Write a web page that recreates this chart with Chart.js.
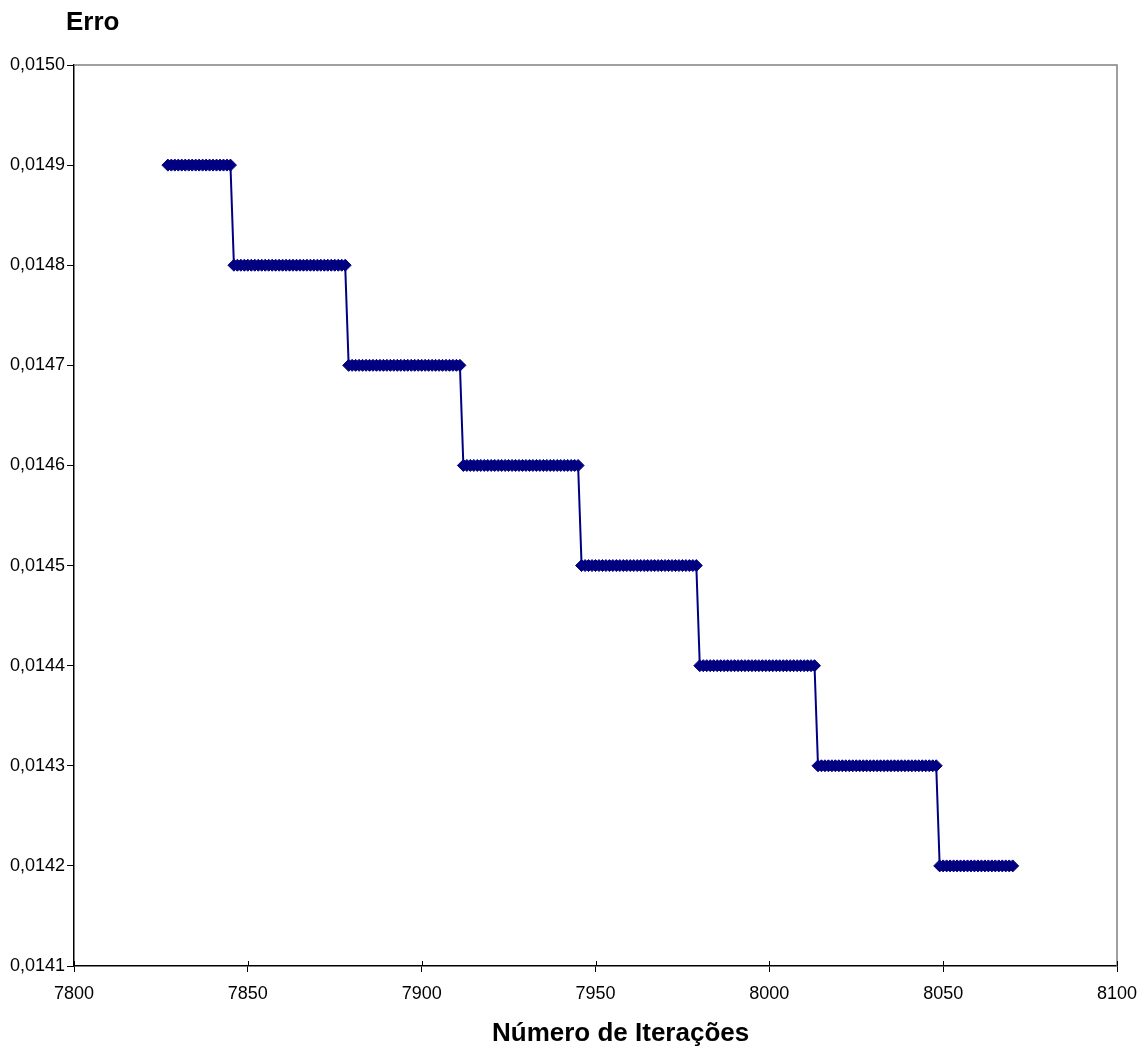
<!DOCTYPE html>
<html><head><meta charset="utf-8">
<script src="https://cdn.jsdelivr.net/npm/chart.js@4.4.1/dist/chart.umd.min.js"></script>
<style>html,body{margin:0;padding:0;background:#fff;overflow:hidden}</style>
</head><body>
<canvas id="c" width="1141" height="1046"></canvas>
<script>
// Iteration number (x) for every plotted point
const iterations = [
 7827,7828,7829,7830,7831,7832,7833,7834,7835,7836,7837,7838,7839,7840,7841,7842,7843,7844,7845,
 7846,7847,7848,7849,7850,7851,7852,7853,7854,7855,7856,7857,7858,7859,7860,7861,7862,7863,7864,7865,7866,7867,7868,7869,7870,7871,7872,7873,7874,7875,7876,7877,7878,
 7879,7880,7881,7882,7883,7884,7885,7886,7887,7888,7889,7890,7891,7892,7893,7894,7895,7896,7897,7898,7899,7900,7901,7902,7903,7904,7905,7906,7907,7908,7909,7910,7911,
 7912,7913,7914,7915,7916,7917,7918,7919,7920,7921,7922,7923,7924,7925,7926,7927,7928,7929,7930,7931,7932,7933,7934,7935,7936,7937,7938,7939,7940,7941,7942,7943,7944,7945,
 7946,7947,7948,7949,7950,7951,7952,7953,7954,7955,7956,7957,7958,7959,7960,7961,7962,7963,7964,7965,7966,7967,7968,7969,7970,7971,7972,7973,7974,7975,7976,7977,7978,7979,
 7980,7981,7982,7983,7984,7985,7986,7987,7988,7989,7990,7991,7992,7993,7994,7995,7996,7997,7998,7999,8000,8001,8002,8003,8004,8005,8006,8007,8008,8009,8010,8011,8012,8013,
 8014,8015,8016,8017,8018,8019,8020,8021,8022,8023,8024,8025,8026,8027,8028,8029,8030,8031,8032,8033,8034,8035,8036,8037,8038,8039,8040,8041,8042,8043,8044,8045,8046,8047,8048,
 8049,8050,8051,8052,8053,8054,8055,8056,8057,8058,8059,8060,8061,8062,8063,8064,8065,8066,8067,8068,8069,8070
];
// Error (y) for every plotted point
const errors = [
 0.0149,0.0149,0.0149,0.0149,0.0149,0.0149,0.0149,0.0149,0.0149,0.0149,0.0149,0.0149,0.0149,0.0149,0.0149,0.0149,0.0149,0.0149,0.0149,
 0.0148,0.0148,0.0148,0.0148,0.0148,0.0148,0.0148,0.0148,0.0148,0.0148,0.0148,0.0148,0.0148,0.0148,0.0148,0.0148,0.0148,0.0148,0.0148,0.0148,0.0148,0.0148,0.0148,0.0148,0.0148,0.0148,0.0148,0.0148,0.0148,0.0148,0.0148,0.0148,0.0148,
 0.0147,0.0147,0.0147,0.0147,0.0147,0.0147,0.0147,0.0147,0.0147,0.0147,0.0147,0.0147,0.0147,0.0147,0.0147,0.0147,0.0147,0.0147,0.0147,0.0147,0.0147,0.0147,0.0147,0.0147,0.0147,0.0147,0.0147,0.0147,0.0147,0.0147,0.0147,0.0147,0.0147,
 0.0146,0.0146,0.0146,0.0146,0.0146,0.0146,0.0146,0.0146,0.0146,0.0146,0.0146,0.0146,0.0146,0.0146,0.0146,0.0146,0.0146,0.0146,0.0146,0.0146,0.0146,0.0146,0.0146,0.0146,0.0146,0.0146,0.0146,0.0146,0.0146,0.0146,0.0146,0.0146,0.0146,0.0146,
 0.0145,0.0145,0.0145,0.0145,0.0145,0.0145,0.0145,0.0145,0.0145,0.0145,0.0145,0.0145,0.0145,0.0145,0.0145,0.0145,0.0145,0.0145,0.0145,0.0145,0.0145,0.0145,0.0145,0.0145,0.0145,0.0145,0.0145,0.0145,0.0145,0.0145,0.0145,0.0145,0.0145,0.0145,
 0.0144,0.0144,0.0144,0.0144,0.0144,0.0144,0.0144,0.0144,0.0144,0.0144,0.0144,0.0144,0.0144,0.0144,0.0144,0.0144,0.0144,0.0144,0.0144,0.0144,0.0144,0.0144,0.0144,0.0144,0.0144,0.0144,0.0144,0.0144,0.0144,0.0144,0.0144,0.0144,0.0144,0.0144,
 0.0143,0.0143,0.0143,0.0143,0.0143,0.0143,0.0143,0.0143,0.0143,0.0143,0.0143,0.0143,0.0143,0.0143,0.0143,0.0143,0.0143,0.0143,0.0143,0.0143,0.0143,0.0143,0.0143,0.0143,0.0143,0.0143,0.0143,0.0143,0.0143,0.0143,0.0143,0.0143,0.0143,0.0143,0.0143,
 0.0142,0.0142,0.0142,0.0142,0.0142,0.0142,0.0142,0.0142,0.0142,0.0142,0.0142,0.0142,0.0142,0.0142,0.0142,0.0142,0.0142,0.0142,0.0142,0.0142,0.0142,0.0142
];
const xTicks = [7800, 7850, 7900, 7950, 8000, 8050, 8100];
const yTicks = [0.0141, 0.0142, 0.0143, 0.0144, 0.0145, 0.0146, 0.0147, 0.0148, 0.0149, 0.0150];
const yAxisTitle = 'Erro';
const xAxisTitle = 'Número de Iterações';

const FONT = '"Liberation Sans", Arial, Helvetica, sans-serif';
const points = iterations.map((x, i) => ({ x: x, y: errors[i] }));

const framePlugin = {
  id: 'frame',
  afterDraw(chart) {
    const { ctx, chartArea: a } = chart;
    ctx.save();
    ctx.strokeStyle = '#808080';
    ctx.lineWidth = 1.5;
    ctx.beginPath();
    ctx.moveTo(a.left, a.top);
    ctx.lineTo(a.right, a.top);
    ctx.lineTo(a.right, a.bottom);
    ctx.stroke();
    // inner part of x tick marks (they cross the axis)
    ctx.strokeStyle = '#000';
    ctx.lineWidth = 1;
    const xs = chart.scales.x;
    xTicks.forEach(v => {
      const px = Math.round(xs.getPixelForValue(v)) + 0.5;
      ctx.beginPath();
      ctx.moveTo(px, a.bottom - 5);
      ctx.lineTo(px, a.bottom);
      ctx.stroke();
    });
    ctx.fillStyle = '#000';
    ctx.font = 'bold 26px ' + FONT;
    ctx.textBaseline = 'alphabetic';
    ctx.textAlign = 'left';
    ctx.fillText(yAxisTitle, 66, 30);
    ctx.fillText(xAxisTitle, 492, 1041);
    ctx.restore();
  }
};

new Chart(document.getElementById('c'), {
  type: 'scatter',
  data: {
    datasets: [{
      data: points,
      showLine: true,
      borderColor: '#000080',
      borderWidth: 2,
      backgroundColor: '#000080',
      pointStyle: 'rectRot',
      pointRadius: 6,
      pointBorderWidth: 1,
      pointBorderColor: '#000080',
      pointBackgroundColor: '#000080',
      tension: 0
    }]
  },
  options: {
    responsive: false,
    animation: false,
    devicePixelRatio: 1,
    layout: { padding: { top: 65, right: 24, bottom: 0, left: 0 } },
    plugins: { legend: { display: false }, tooltip: { enabled: false }, title: { display: false } },
    scales: {
      x: {
        type: 'linear',
        min: 7800, max: 8100,
        afterBuildTicks: s => { s.ticks = xTicks.map(v => ({ value: v })); },
        afterFit: s => { s.height = 80; s.paddingLeft = 0; s.paddingRight = 0; },
        border: { display: true, color: '#000', width: 1.5 },
        grid: { display: true, drawOnChartArea: false, drawTicks: true, tickLength: 6, color: '#000', lineWidth: 1 },
        ticks: { color: '#000', font: { family: FONT, size: 18 }, padding: 11, maxRotation: 0, autoSkip: false,
                 callback: v => String(v) }
      },
      y: {
        type: 'linear',
        min: 0.0141, max: 0.0150,
        afterBuildTicks: s => { s.ticks = yTicks.map(v => ({ value: v })); },
        afterFit: s => { s.width = 74; s.paddingTop = 0; s.paddingBottom = 0; },
        border: { display: true, color: '#000', width: 1.5 },
        grid: { display: true, drawOnChartArea: false, drawTicks: true, tickLength: 7, color: '#000', lineWidth: 1 },
        ticks: { color: '#000', font: { family: FONT, size: 18 }, padding: 2, autoSkip: false,
                 callback: v => v.toFixed(4).replace('.', ',') }
      }
    }
  },
  plugins: [framePlugin]
});
</script>
</body></html>
